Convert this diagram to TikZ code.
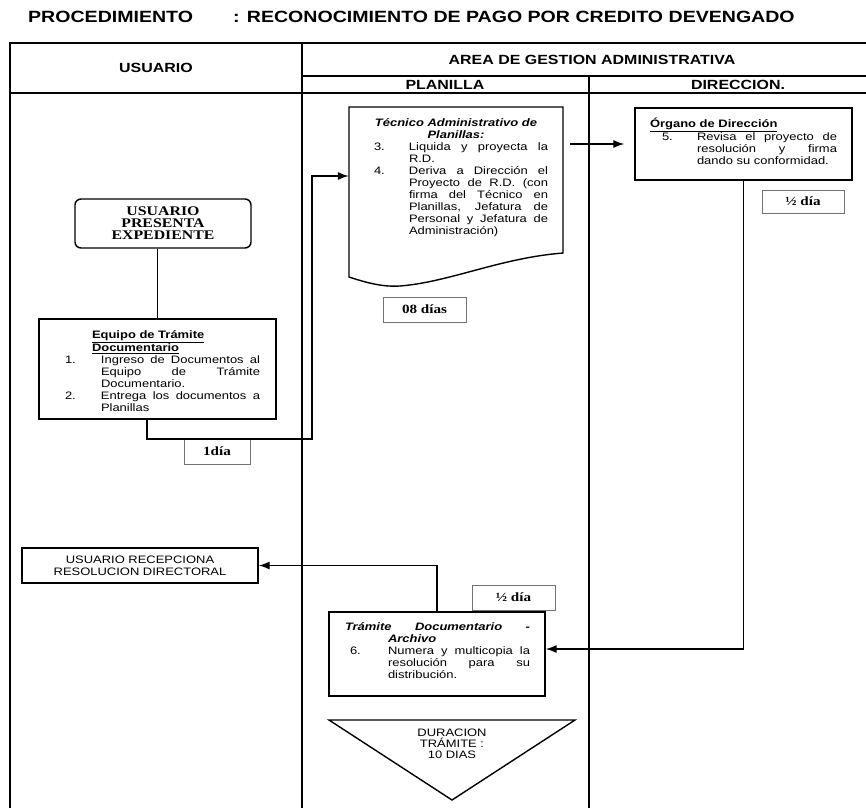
\documentclass[tikz,border=0pt]{standalone}
\usepackage{fontspec}
\setmainfont{Liberation Sans}[FakeStretch=1.2]
\newfontfamily\tmsfont{Liberation Serif}[FakeStretch=1.2]
\usetikzlibrary{arrows.meta}

\newcommand{\ttl}{\fontsize{16.3}{18}\selectfont\bfseries}
\newcommand{\hdr}{\fontsize{13.3}{15}\selectfont\bfseries}
\newcommand{\bdy}{\fontsize{10.8}{12}\selectfont\tolerance=10000\hbadness=10000\hyphenpenalty=10000\exhyphenpenalty=10000}
\newcommand{\durfont}{\fontsize{10.8}{11}\selectfont}
\newcommand{\prsfont}{\tmsfont\fontsize{13.2}{12}\selectfont\bfseries}
\newcommand{\dias}{\tmsfont\fontsize{12.6}{14}\selectfont\bfseries}
\newcommand{\hdg}[2]{\par\leftskip=#1pt\rightskip=0pt plus 1fil\parfillskip=0pt plus 1fil\noindent#2\par}
\newcommand{\itm}[4]{\par\leftskip=#1pt\rightskip=0pt\parfillskip=0pt plus 1fil\hangindent=#2pt\hangafter=1\noindent\makebox[#2pt][l]{#3}#4\par}

\begin{document}
\begin{tikzpicture}[x=1pt,y=-1pt,
  pbox/.style={draw,line width=1.4pt,inner ysep=0pt},
  dbox/.style={draw=black!55,line width=0.7pt,font=\dias,inner sep=0pt},
  conector/.style={line width=1.3pt,-{Latex[length=11pt,width=8pt]}},
  lane/.style={line width=1.1pt}]
\useasboundingbox (0,0) rectangle (866,808);
% encabezado
\node[anchor=base west,inner sep=0pt,font=\ttl] (proc) at (28,23) {PROCEDIMIENTO};
\node[anchor=base west,inner sep=0pt,font=\ttl] (nombre) at (233,23) {: RECONOCIMIENTO DE PAGO POR CREDITO DEVENGADO};
\draw[lane] (10,808) -- (10,43) -- (866,43);
\draw[lane] (302,43) -- (302,808);
\draw[lane] (302,76) -- (866,76);
\draw[lane] (589,76) -- (589,808);
\draw[lane] (10,93) -- (866,93);
\node[font=\hdr] (husuario) at (156,68) {USUARIO};
\node[font=\hdr] (harea) at (592,60) {AREA DE GESTION ADMINISTRATIVA};
\node[font=\hdr] (hplanilla) at (445,85) {PLANILLA};
\node[font=\hdr] (hdireccion) at (738,85) {DIRECCION.};

% usuario
\node[pbox,rounded corners=6pt,minimum width=176pt,minimum height=49pt,align=center,font=\prsfont] (presenta) at (163,223.5) {USUARIO\\PRESENTA\\EXPEDIENTE};
\node[pbox,minimum width=237pt,minimum height=100pt,text width=205pt,inner xsep=16pt,align=justify,font=\bdy] (equipo) at (157.5,369) {%
\hdg{37}{\textbf{\underline{Equipo de Trámite}}\break\textbf{\underline{Documentario}}}%
\itm{10}{36}{1.}{Ingreso de Documentos al\break Equipo de Trámite\break Documentario.}%
\itm{10}{36}{2.}{Entrega los documentos a\break Planillas}};
\node[pbox,minimum width=236pt,minimum height=35pt,align=center,font=\bdy] (recepciona) at (140,565.5) {USUARIO RECEPCIONA\\RESOLUCION DIRECTORAL};

% planilla
\node[minimum width=214pt,minimum height=138pt,text width=184pt,inner xsep=15pt,inner ysep=0pt,align=justify,font=\bdy] (tecnico) at (456,176) {%
{\par\leftskip=0pt plus 1fil\rightskip=0pt plus 1fil\parfillskip=0pt\noindent\textbf{\textit{Técnico Administrativo de}}\break\textbf{\textit{Planillas:}}\par}%
\itm{10}{35}{3.}{Liquida y proyecta la\break R.D.}%
\itm{10}{35}{4.}{Deriva a Dirección el\break Proyecto de R.D. (con\break firma del Técnico en\break Planillas, Jefatura de\break Personal y Jefatura de\break Administración)}};
\draw[line width=1.4pt] (349,107) -- (563,107) -- (563,253) .. controls (500,258) and (450,282) .. (400,286) .. controls (385,287) and (370,284) .. (349,277) -- cycle;
\node[pbox,minimum width=216pt,minimum height=84pt,text width=186pt,inner xsep=15pt,align=justify,font=\bdy] (tramite) at (437,654) {%
{\par\leftskip=1pt\rightskip=0pt\parfillskip=0pt plus 1fil\hangindent=43pt\hangafter=1\noindent\textbf{\textit{Trámite Documentario -}}\break\textbf{\textit{Archivo}}\par}%
\itm{6}{38}{6.}{Numera y multicopia la\break resolución para su\break distribución.}\par\kern10pt};
\draw[line width=1.4pt] (329,720) -- (575,720) -- (452,800) -- cycle;
\node[align=center,font=\durfont] (duracion) at (452,744) {DURACION\\TRÁMITE :\\10 DIAS};

% direccion
\node[pbox,minimum width=217pt,minimum height=72pt,text width=187pt,inner xsep=15pt,align=justify,font=\bdy] (organo) at (743.5,144) {%
\hdg{0}{\textbf{\underline{Órgano de Dirección}}}%
\itm{12}{35}{5.}{Revisa el proyecto de\break resolución y firma\break dando su conformidad.}\par\kern8pt};

% plazos
\node[dbox,minimum width=82pt,minimum height=23pt] (medio1) at (803,201.5) {½ día};
\node[dbox,minimum width=83pt,minimum height=25pt] (ocho) at (424.5,309.5) {08 días};
\node[dbox,minimum width=66pt,minimum height=25pt] (uno) at (217,451.5) {1día};
\node[dbox,minimum width=83pt,minimum height=25pt] (medio2) at (513.5,597.5) {½ día};

% flujo
\draw[line width=1.3pt] (equipo.north) -- (equipo.north |- presenta.south);
\coordinate (codo) at (312,439);
\draw[conector] ([xshift=-10.5pt]equipo.south) |- (codo) |- (tecnico.west);
\draw[conector,shorten <=7pt,shorten >=10pt] (tecnico.east |- organo.west) -- (organo.west);
\draw[conector] (organo.south) |- ([yshift=5pt]tramite.east);
\draw[conector] (tramite.north) |- (recepciona.east);
\end{tikzpicture}
\end{document}
